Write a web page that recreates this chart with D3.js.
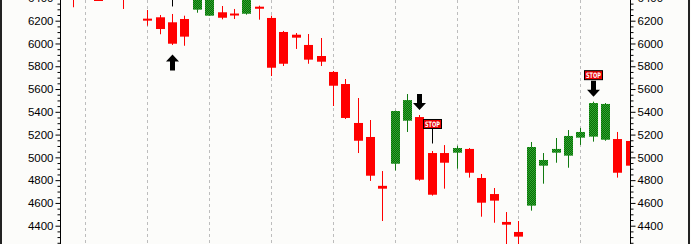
<!DOCTYPE html>
<html>
<head>
<meta charset="utf-8">
<script src="https://cdn.jsdelivr.net/npm/d3@7"></script>
<style>
  body { margin: 0; background: #fcfcfa; }
  svg { display: block; }
</style>
</head>
<body>
<svg id="chart" width="691" height="244"></svg>
<script>
// weekly candles (index 0 = leftmost)
var opens  = [6450, 6420, 6440, 6400, 6420, 6390, 6218, 6230, 6186, 6215, 6297, 6244, 6274, 6263, 6261, 6323,
              6224, 6101, 6077, 5987, 5890, 5750, 5644, 5302, 5179, 4750, 4944, 5322, 5354, 5038, 5038, 5041,
              5074, 4819, 4678, 4433, 4345, 4576, 4927, 5041, 5015, 5173, 5182, 5155, 5161, 5144];
var highs  = [6470, 6480, 6460, 6450, 6440, 6420, 6294, 6250, 6259, 6244, 6440, 6420, 6329, 6303, 6420, 6332,
              6244, 6110, 6092, 6083, 6048, 5758, 5688, 5521, 5328, 4880, 5410, 5556, 5372, 5056, 5108, 5102,
              5082, 4854, 4731, 4520, 4441, 5135, 5038, 5170, 5240, 5258, 5489, 5477, 5223, 5160];
var lows   = [6318, 6400, 6373, 6390, 6303, 6385, 6156, 6081, 5987, 5980, 6270, 6241, 6212, 6215, 6253, 6209,
              5714, 5802, 5952, 5822, 5802, 5451, 5337, 5038, 4793, 4441, 4885, 5223, 4795, 4664, 4725, 4901,
              4822, 4479, 4426, 4239, 4150, 4532, 4769, 4953, 4909, 5109, 5138, 5146, 4822, 4900];
var closes = [6400, 6460, 6373, 6430, 6395, 6400, 6212, 6127, 5998, 6060, 6420, 6400, 6226, 6259, 6400, 6305,
              5787, 5822, 6051, 5858, 5840, 5629, 5346, 5146, 4839, 4725, 5407, 5503, 4804, 4672, 4953, 5082,
              4865, 4602, 4620, 4409, 4304, 5091, 4977, 5074, 5188, 5223, 5477, 5469, 4865, 4927];

var gridIdx = [1, 6, 11, 16, 21, 26, 31, 36, 41];
var majorTicks = [4200, 4400, 4600, 4800, 5000, 5200, 5400, 5600, 5800, 6000, 6200, 6400];
var minorTicks = d3.range(4150, 6451, 50).filter(v => v % 200 != 0);

var buyArrows = [8];
var sellArrows = [28, 42];
var stopSigns = [8, 29, 42];

var svg = d3.select('#chart');
var left = 60, right = 630;

var x = d3.scaleLinear().domain([0, 45]).range([73.1, 629.8]);
var y = d3.scaleLinear().domain([4400, 6200]).range([225.7, 20.7]);

var candles = opens.map((o, i) => ({ i: i, o: o, h: highs[i], l: lows[i], c: closes[i] }));

var defs = svg.append('defs');
var pat = defs.append('pattern').attr('id', 'dither').attr('width', 2).attr('height', 2).attr('patternUnits', 'userSpaceOnUse');
pat.append('rect').attr('width', 2).attr('height', 2).attr('fill', '#086c08');
pat.append('rect').attr('width', 1).attr('height', 1).attr('fill', '#2ea62e');
pat.append('rect').attr('x', 1).attr('y', 1).attr('width', 1).attr('height', 1).attr('fill', '#2ea62e');
defs.append('clipPath').attr('id', 'plot').append('rect').attr('x', left).attr('y', 0).attr('width', right - left).attr('height', 244);

// frame borders
svg.append('rect').attr('x', 1).attr('y', -1).attr('width', 688).attr('height', 246)
   .attr('fill', 'none').attr('stroke', '#222').attr('stroke-width', 2);

// dashed verticals
svg.append('g').selectAll('line').data(gridIdx).enter().append('line')
   .attr('x1', d => Math.round(x(d)) + 0.5).attr('x2', d => Math.round(x(d)) + 0.5)
   .attr('y1', 0).attr('y2', 244)
   .attr('stroke', '#bdbdbd').attr('stroke-dasharray', '3,3');

var plot = svg.append('g').attr('clip-path', 'url(#plot)');
var fillOf = d => d.c >= d.o ? 'url(#dither)' : '#ff0000';
var wickOf = d => d.c >= d.o ? '#107a10' : '#ff0000';

plot.selectAll('line.wick').data(candles).enter().append('line')
    .attr('class', 'wick')
    .attr('x1', d => Math.round(x(d.i)) + 0.5).attr('x2', d => Math.round(x(d.i)) + 0.5)
    .attr('y1', d => y(d.h)).attr('y2', d => y(d.l))
    .attr('stroke', wickOf).attr('stroke-width', 1);

plot.selectAll('rect.body').data(candles).enter().append('rect')
    .attr('class', 'body')
    .attr('x', d => Math.round(x(d.i)) - 4)
    .attr('width', 9)
    .attr('y', d => y(Math.max(d.o, d.c)))
    .attr('height', d => Math.max(2, Math.abs(y(d.o) - y(d.c))))
    .attr('fill', fillOf);

// arrows
function arrowPath(cx, tip, dir) {
  var s = dir; // 1 = points up, -1 = points down
  return 'M' + cx + ',' + tip +
         'L' + (cx + 6.5) + ',' + (tip + s * 7) +
         'L' + (cx + 2.5) + ',' + (tip + s * 7) +
         'L' + (cx + 2.5) + ',' + (tip + s * 16) +
         'L' + (cx - 2.5) + ',' + (tip + s * 16) +
         'L' + (cx - 2.5) + ',' + (tip + s * 7) +
         'L' + (cx - 6.5) + ',' + (tip + s * 7) + 'Z';
}
plot.selectAll('path.buy').data(buyArrows).enter().append('path')
    .attr('d', d => arrowPath(Math.round(x(d)) + 0.5, y(lows[d]) + 9.5, 1)).attr('fill', '#000');
plot.selectAll('path.sell').data(sellArrows).enter().append('path')
    .attr('d', d => arrowPath(Math.round(x(d)) + 0.5, y(highs[d]) - 5, -1)).attr('fill', '#000');

// stop signs (the one above candle 8 sits off the top, only its pole shows)
stopSigns.forEach(function(i) {
  var cx = Math.round(x(i)) + 0.5;
  var bottom;
  if (sellArrows.indexOf(i) >= 0) {
    bottom = y(highs[i]) - 22;
  } else {
    bottom = y(highs[i]) - 7.5;
    plot.append('line').attr('x1', cx).attr('x2', cx).attr('y1', bottom - 15).attr('y2', bottom)
        .attr('stroke', '#000');
    bottom -= 15;
  }
  if (bottom < 0) return;
  var g = plot.append('g');
  g.append('rect').attr('x', cx - 9).attr('y', bottom - 9).attr('width', 18).attr('height', 9)
   .attr('fill', '#e80000').attr('stroke', '#000').attr('stroke-width', 1);
  g.append('text').attr('x', cx).attr('y', bottom - 1.5)
   .attr('text-anchor', 'middle').attr('font-family', 'DejaVu Sans, sans-serif')
   .attr('font-size', 7.5).attr('font-weight', 700).attr('fill', '#fff')
   .attr('textLength', 15).attr('lengthAdjust', 'spacingAndGlyphs').text('STOP');
});

// axes
function drawAxis(xpos, side) {
  var major = side == 'left' ? d3.axisLeft(y) : d3.axisRight(y);
  var g = svg.append('g').attr('transform', 'translate(' + (xpos + 0.5) + ',0)')
             .call(major.tickValues(majorTicks).tickSize(5).tickPadding(2).tickFormat(d3.format('d')));
  g.select('.domain').remove();
  g.selectAll('text').attr('font-family', 'Liberation Sans, Arial, sans-serif').attr('font-size', 11.5).attr('fill', '#000');
  g.selectAll('line').attr('stroke', '#000');
  var minor = side == 'left' ? d3.axisLeft(y) : d3.axisRight(y);
  var g2 = svg.append('g').attr('transform', 'translate(' + (xpos + 0.5) + ',0)')
              .call(minor.tickValues(minorTicks).tickSize(3).tickFormat(''));
  g2.select('.domain').remove();
  g2.selectAll('line').attr('stroke', '#000');
  svg.append('line').attr('x1', xpos + 0.5).attr('x2', xpos + 0.5).attr('y1', 0).attr('y2', 244).attr('stroke', '#000');
}
drawAxis(left, 'left');
drawAxis(right, 'right');
</script>
</body>
</html>
